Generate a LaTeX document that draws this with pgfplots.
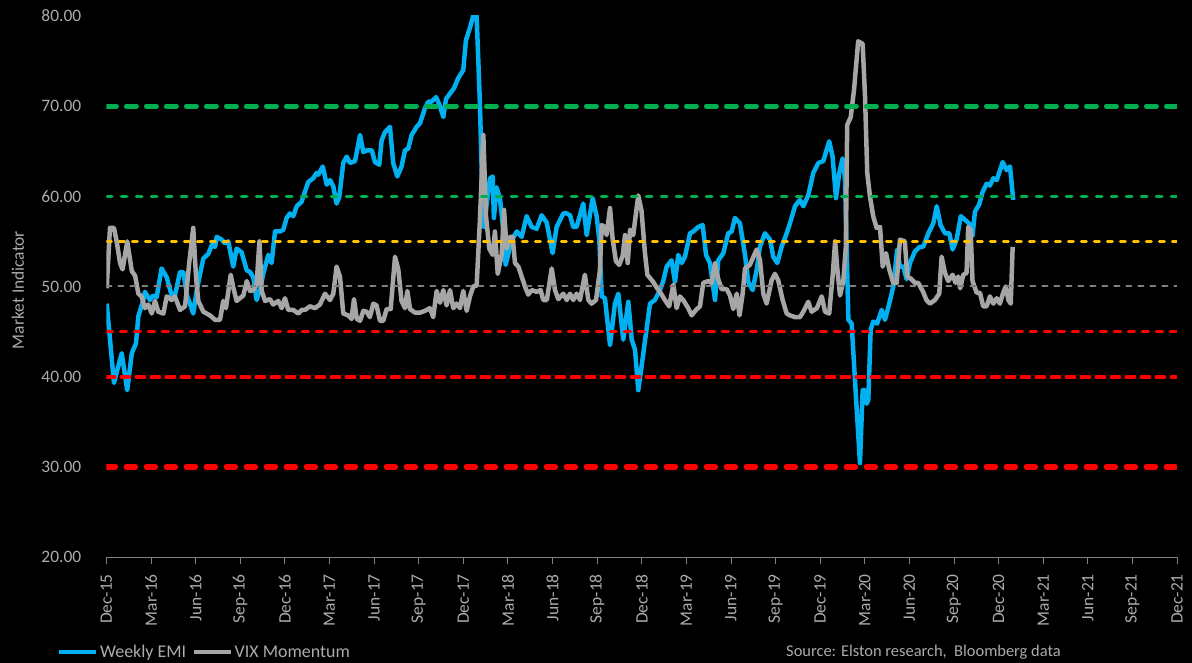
\documentclass[border=0pt]{standalone}
\usepackage{pgfplots}
\pgfplotsset{compat=1.18}
\usepackage{fontspec}
\setmainfont{Carlito}
\definecolor{emi}{HTML}{00B0F0}
\definecolor{vix}{HTML}{A6A6A6}
\definecolor{grn}{HTML}{00B050}
\definecolor{ylw}{HTML}{FFC000}
\definecolor{redl}{HTML}{FF0000}
\definecolor{midg}{HTML}{808080}
\definecolor{txt}{HTML}{ABABAB}
\begin{document}
\begin{tikzpicture}[x=1bp,y=1bp]
\path[fill=black, use as bounding box] (0,0) rectangle (1192,663);
\begin{axis}[
  at={(106.4bp,106bp)}, anchor=south west,
  scale only axis, width=1070.6bp, height=541bp,
  xmin=0, xmax=72, ymin=20, ymax=80,
  axis x line*=bottom, axis y line*=left,
  x axis line style={midg, line width=0.8bp},
  y axis line style={draw=none},
  tick align=outside, major tick length=7bp,
  xtick={0,3,...,72},
  xticklabels={Dec-15,Mar-16,Jun-16,Sep-16,Dec-16,Mar-17,Jun-17,Sep-17,Dec-17,Mar-18,Jun-18,Sep-18,Dec-18,Mar-19,Jun-19,Sep-19,Dec-19,Mar-20,Jun-20,Sep-20,Dec-20,Mar-21,Jun-21,Sep-21,Dec-21},
  xtick style={midg, line width=0.8bp},
  x tick label style={yshift=-10bp, rotate=90, anchor=east, inner sep=0pt, text=txt, font=\fontsize{17.5}{17.5}\selectfont},
  ytick={20,30,...,80},
  yticklabels={20.00,30.00,40.00,50.00,60.00,70.00,80.00},
  ytick style={draw=none},
  y tick label style={anchor=east, inner sep=0pt, xshift=-18bp, text=txt, font=\fontsize{17.5}{17.5}\selectfont},
  ylabel={Market Indicator},
  every axis y label/.style={at={(axis description cs:-0.0826,0.4935)}, rotate=90, anchor=center, text=txt, font=\fontsize{17.5}{17.5}\selectfont},
  legend columns=2,
  legend style={at={(axis description cs:-0.0461,-0.1756)}, anchor=west, draw=none, fill=none, text=txt, inner sep=0pt, outer sep=0pt, font=\fontsize{18}{18}\selectfont, nodes={inner sep=1.5bp}, /tikz/every even column/.append style={column sep=4bp}},
  legend image code/.code={\draw[#1, line width=4.5bp] (0bp,0bp) -- (37bp,0bp);},
  clip=true,
]
\addplot[emi, line width=4.5bp, line join=round] table {
0.02 48.1
0.51 39.3
1.03 42.6
1.40 38.5
1.71 42.6
1.99 43.7
2.15 46.7
2.48 48.5
2.59 49.4
2.93 48.5
3.15 49.0
3.38 48.8
3.71 52.0
4.06 51.0
4.39 49.0
4.61 49.0
4.95 51.6
5.17 51.6
5.44 48.9
5.62 48.1
5.84 47.0
6.08 49.6
6.30 51.4
6.52 53.1
6.85 53.6
7.09 54.6
7.31 54.4
7.42 55.5
7.75 55.2
7.97 54.8
8.20 55.0
8.53 52.2
8.76 54.2
9.09 53.8
9.44 51.8
9.66 51.6
9.88 51.0
10.10 48.5
10.33 49.6
10.55 51.4
10.89 53.5
11.11 52.6
11.34 56.1
11.68 56.1
11.90 56.3
12.12 57.6
12.34 58.1
12.57 57.8
12.80 58.9
13.13 59.4
13.35 60.5
13.58 61.6
13.91 62.0
14.14 62.6
14.25 62.4
14.55 63.3
14.82 61.3
15.04 61.8
15.26 61.1
15.48 59.2
15.66 59.9
15.93 63.7
16.16 64.4
16.38 63.7
16.72 63.9
17.06 66.8
17.28 64.9
17.50 65.1
17.85 65.1
18.06 63.8
18.35 63.5
18.51 66.2
18.73 67.1
19.07 67.7
19.29 63.7
19.56 62.2
19.85 63.3
20.08 65.1
20.30 65.3
20.53 66.8
20.86 67.7
21.09 68.1
21.43 69.8
21.65 70.5
21.87 70.5
22.17 71.0
22.39 70.2
22.66 68.8
22.84 70.8
23.11 71.4
23.38 72.0
23.66 73.1
24.00 74.0
24.18 77.3
24.45 78.7
24.67 80.0
24.90 80.0
25.12 70.3
25.31 58.5
25.40 56.6
25.58 59.2
25.80 62.0
25.98 62.2
26.06 57.6
26.24 61.0
26.47 59.7
26.69 56.3
26.85 52.4
27.03 53.6
27.25 55.1
27.60 56.1
27.93 55.5
28.26 57.8
28.61 56.6
28.94 56.4
29.27 57.9
29.61 57.1
30.01 53.7
30.28 56.6
30.73 58.1
30.96 58.1
31.18 57.9
31.40 56.6
31.62 56.6
32.07 59.2
32.30 55.7
32.70 59.8
32.97 57.8
33.15 55.2
33.31 48.9
33.53 48.7
33.87 43.5
34.20 48.1
34.43 49.2
34.76 44.1
35.10 48.3
35.33 44.1
35.55 43.0
35.77 38.5
35.99 41.1
36.29 44.8
36.56 48.1
36.89 48.5
37.23 49.6
37.45 50.6
37.68 52.2
38.01 52.9
38.24 50.5
38.46 53.5
38.69 52.6
38.91 53.3
39.25 55.9
39.47 56.1
39.81 56.6
40.10 56.8
40.33 53.5
40.59 52.6
40.93 48.5
41.15 52.9
41.49 53.7
41.82 55.9
42.05 56.1
42.27 57.6
42.61 57.0
42.95 53.5
43.17 50.5
43.46 49.6
43.73 51.8
43.95 54.4
44.29 55.9
44.63 55.2
44.85 53.3
45.12 52.6
45.41 54.4
45.75 55.9
45.97 57.0
46.31 58.9
46.64 59.6
46.87 58.9
47.20 60.1
47.54 62.6
47.88 63.7
48.21 63.9
48.61 66.1
48.84 64.4
49.07 59.8
49.29 62.6
49.51 64.2
49.67 62.0
49.90 46.3
50.12 45.9
50.41 37.8
50.68 30.4
50.86 38.5
51.02 38.5
51.13 37.0
51.24 37.4
51.40 45.2
51.57 46.1
51.84 45.9
52.14 47.4
52.36 46.3
52.65 48.1
52.92 50.0
53.09 52.6
53.18 54.1
53.37 52.2
53.59 52.2
53.82 50.8
54.04 52.6
54.38 53.9
54.71 54.4
54.93 54.4
55.28 55.9
55.61 57.0
55.84 58.9
56.10 56.8
56.40 55.9
56.69 55.9
56.91 54.1
57.18 55.2
57.46 57.8
57.74 57.4
58.08 56.9
58.25 55.6
58.41 58.3
58.70 59.1
58.93 60.5
59.20 61.4
59.42 61.2
59.65 62.0
59.88 61.8
60.28 63.8
60.54 62.9
60.77 63.3
60.99 59.6
};
\addlegendentry{Weekly EMI}
\addplot[vix, line width=4.5bp, line join=round] table {
0.02 49.8
0.24 56.5
0.51 56.5
0.70 54.9
0.92 52.6
1.09 51.9
1.40 55.0
1.71 51.7
1.93 51.2
2.15 49.2
2.37 48.9
2.59 47.6
2.82 48.0
3.05 47.0
3.27 48.4
3.49 47.2
3.83 47.0
4.06 48.9
4.39 48.5
4.61 48.9
4.95 47.4
5.29 47.8
5.57 52.6
5.84 56.5
6.03 51.0
6.18 48.4
6.52 47.2
6.96 46.8
7.31 46.3
7.64 46.3
7.86 48.4
8.04 47.6
8.36 51.3
8.53 49.9
8.76 48.4
8.98 48.7
9.21 49.0
9.44 50.6
9.66 49.5
9.88 49.6
10.10 50.2
10.29 55.0
10.45 49.5
10.67 48.4
11.00 48.6
11.22 48.0
11.56 48.4
11.79 47.6
12.01 48.7
12.23 47.4
12.57 47.4
12.91 47.0
13.13 47.4
13.35 47.4
13.69 47.8
14.03 47.6
14.36 48.0
14.70 49.2
15.04 48.5
15.26 49.2
15.48 52.2
15.71 51.1
15.93 47.0
16.26 46.8
16.49 46.4
16.65 48.6
16.84 46.4
17.06 46.2
17.28 47.3
17.50 47.2
17.72 46.6
17.95 48.1
18.17 47.9
18.40 46.2
18.62 46.2
18.85 47.5
19.12 47.5
19.41 53.3
19.63 51.9
19.85 48.4
20.08 47.6
20.24 49.5
20.42 47.5
20.75 47.1
21.09 47.1
21.43 47.3
21.76 47.6
21.98 46.6
22.21 49.5
22.44 48.2
22.66 49.6
22.88 47.9
23.11 49.6
23.33 47.6
23.56 48.1
23.78 47.6
24.00 49.5
24.23 47.3
24.45 48.9
24.67 50.0
24.90 50.1
25.12 57.4
25.35 66.8
25.53 57.8
25.75 54.2
25.98 53.5
26.13 56.1
26.32 51.4
26.59 53.6
26.74 58.5
26.92 54.2
27.14 55.5
27.32 55.5
27.48 52.6
27.71 52.2
27.93 51.1
28.15 50.0
28.37 49.1
28.61 49.6
28.94 49.4
29.20 49.6
29.38 48.5
29.62 48.5
29.95 52.0
30.17 49.6
30.39 48.6
30.73 49.2
30.96 48.5
31.18 49.2
31.40 48.5
31.62 49.2
31.85 48.5
32.18 51.3
32.41 48.5
32.63 48.1
32.93 48.5
33.19 51.8
33.31 56.8
33.53 56.6
33.64 55.7
33.87 58.7
34.05 55.2
34.27 52.8
34.49 52.4
34.72 53.4
34.88 55.7
35.06 52.6
35.22 56.3
35.43 55.7
35.77 60.1
35.99 58.4
36.22 53.7
36.38 51.3
36.78 50.5
37.00 49.9
37.23 49.4
37.56 48.5
37.85 47.8
38.13 50.2
38.35 47.6
38.57 48.9
38.79 48.5
39.13 47.6
39.36 46.8
39.65 47.4
39.92 47.8
40.14 50.4
40.48 50.6
40.71 50.4
40.93 52.6
41.15 50.8
41.38 49.7
41.72 49.7
41.94 49.0
42.16 47.5
42.39 49.2
42.58 46.8
42.79 49.2
42.95 52.0
43.28 52.4
43.73 54.1
43.95 53.0
44.18 49.2
44.40 48.1
44.74 50.7
44.96 51.4
45.18 50.7
45.48 48.5
45.75 47.0
45.97 46.8
46.31 46.6
46.64 46.6
46.87 47.2
47.20 48.3
47.43 47.2
47.78 47.6
48.11 48.9
48.33 47.2
48.61 47.0
48.84 51.1
49.01 55.0
49.16 51.9
49.34 49.0
49.56 50.6
49.73 54.4
49.82 67.9
50.06 68.8
50.28 71.8
50.56 77.2
50.86 76.9
51.02 71.1
51.17 62.6
51.35 60.0
51.57 57.8
51.80 56.5
52.03 56.6
52.21 52.2
52.43 53.7
52.65 51.9
52.92 50.4
53.15 50.4
53.37 55.2
53.70 55.0
53.86 51.1
54.08 50.9
54.38 50.4
54.60 50.4
54.93 49.4
55.15 48.5
55.39 48.1
55.72 48.5
56.01 49.2
56.17 53.3
56.40 51.5
56.62 50.6
56.91 51.3
57.11 50.4
57.28 51.1
57.42 49.8
57.63 51.3
57.85 51.5
57.96 56.6
58.12 56.3
58.25 50.6
58.53 49.3
58.75 49.3
58.97 47.8
59.20 47.8
59.42 48.9
59.65 48.1
59.88 48.7
60.09 48.1
60.31 49.3
60.49 50.0
60.66 48.5
60.82 48.1
60.95 54.4
};
\addlegendentry{VIX Momentum}
\addplot[forget plot, grn, line width=5bp, line cap=round, dash pattern=on 10bp off 10bp] coordinates {(0,70) (72,70)};
\addplot[forget plot, grn, line width=3.5bp, line cap=round, dash pattern=on 5.5bp off 9.5bp] coordinates {(0,60) (72,60)};
\addplot[forget plot, ylw, line width=3bp, line cap=round, dash pattern=on 5bp off 8bp] coordinates {(0,55) (72,55)};
\addplot[forget plot, midg, line width=2bp, line cap=round, dash pattern=on 5bp off 7bp] coordinates {(0,50) (72,50)};
\addplot[forget plot, redl, line width=3.5bp, line cap=round, dash pattern=on 6bp off 8bp] coordinates {(0,45) (72,45)};
\addplot[forget plot, redl, line width=4bp, line cap=round, dash pattern=on 8bp off 7bp] coordinates {(0,40) (72,40)};
\addplot[forget plot, redl, line width=5.5bp, line cap=round, dash pattern=on 9bp off 11bp] coordinates {(0,30) (72,30)};
\end{axis}
\node[anchor=west, inner sep=0pt, text=txt, font=\fontsize{16.5}{16.5}\selectfont] at (786,11) {Source: Elston research,\ \ Bloomberg data};
\end{tikzpicture}
\end{document}
